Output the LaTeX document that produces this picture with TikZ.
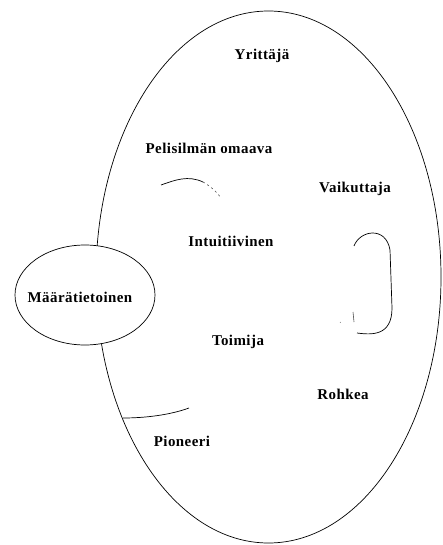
\documentclass[tikz,border=0pt]{standalone}
\usepackage{fontspec}
\setmainfont{Liberation Serif}
\begin{document}
\begin{tikzpicture}[x=1bp,y=-1bp,
  lbl/.style={font=\fontsize{15}{18}\selectfont\bfseries\addfontfeatures{LetterSpace=3}, inner sep=0pt},
  outline/.style={line width=0.7bp, black},
  faint/.style={line width=0.6bp, black!70}]
\useasboundingbox (0,0) rectangle (443,545);

% outer ellipse
\coordinate (outer) at (268.5,277);
\draw[outline] (outer) ellipse [x radius=172.5, y radius=266];

% inner arc fragments
\coordinate (a1) at (161,185);
\coordinate (a2) at (221,198);
\draw[outline] (a1) .. controls (175,180) and (188,175) .. (203,182);
\draw[faint, dash pattern=on 2bp off 3bp] (203,182) .. controls (210,186) and (216,191) .. (a2);

\coordinate (b1) at (354,246);
\coordinate (b2) at (357,333);
\draw[outline] (b1) .. controls (360,230) and (386,226) .. (390,250)
  -- (392,308) .. controls (392,336) and (372,335) .. (b2);
\draw[faint] (353,312) -- (354,322);
\draw[faint] (340,322) -- (340.6,322.6);

\coordinate (c1) at (123,418);
\coordinate (c2) at (189,408);
\draw[outline] (c1) .. controls (145,418) and (170,415) .. (c2);

% small ellipse on the left
\draw[outline, fill=white] (85,295) ellipse [x radius=70, y radius=50];
\node[lbl] (maar) at (80,297.5) {Määrätietoinen};

% labels
\node[lbl] (yrit) at (262,56) {Yrittäjä};
\node[lbl] (peli) at (209,148) {Pelisilmän omaava};
\node[lbl] (vaik) at (355,189) {Vaikuttaja};
\node[lbl] (intu) at (231,241) {Intuitiivinen};
\node[lbl] (toim) at (238,342) {Toimija};
\node[lbl] (rohk) at (343,394) {Rohkea};
\node[lbl] (pion) at (182,441) {Pioneeri};
\end{tikzpicture}
\end{document}
